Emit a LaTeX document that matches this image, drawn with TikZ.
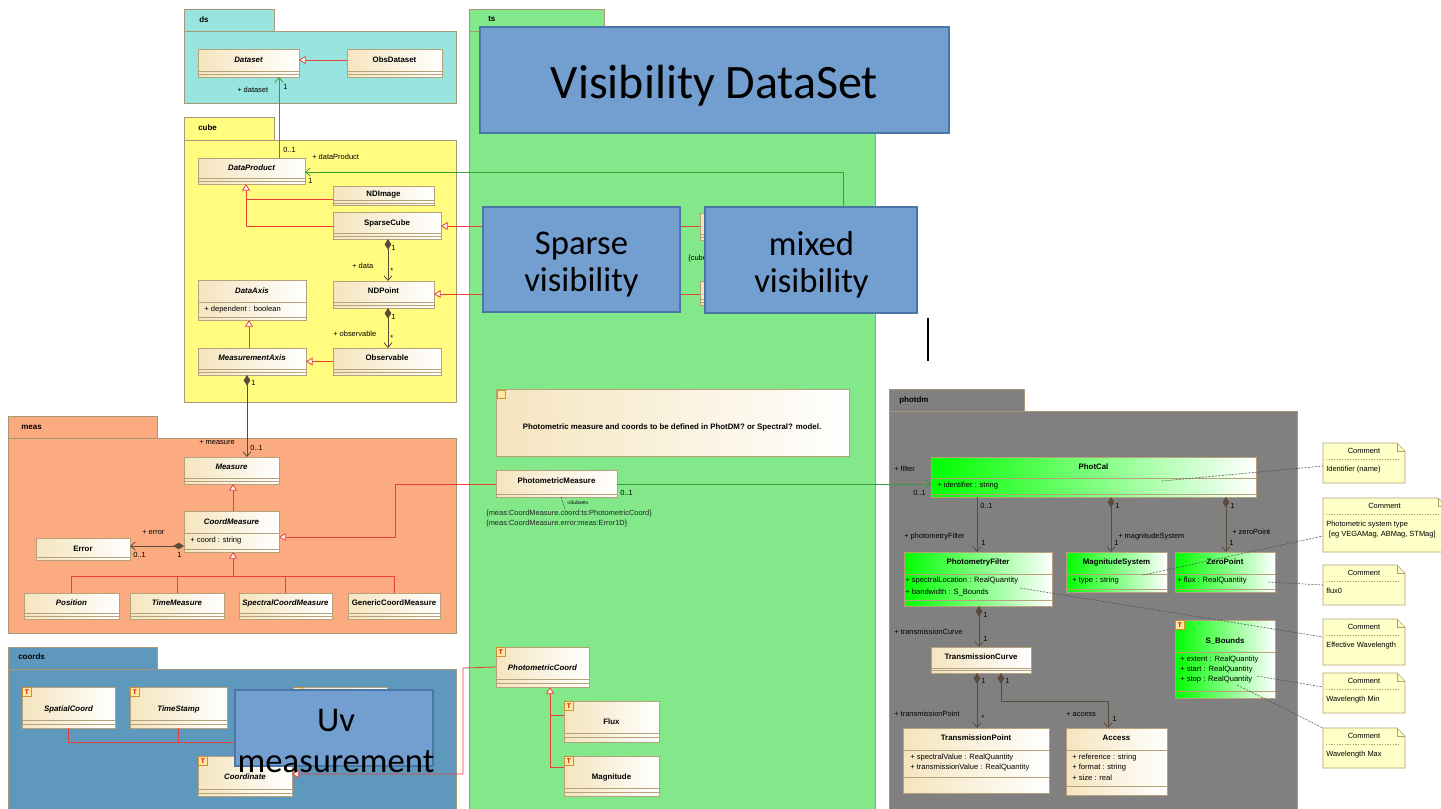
\documentclass[tikz,border=0pt]{standalone}
\usepackage{fontspec}
\setmainfont{Liberation Sans}
\newfontfamily\calib{Carlito}
\usetikzlibrary{arrows.meta,fit,calc}
\definecolor{dsC}{HTML}{98E4DE}
\definecolor{cubeC}{HTML}{FFFC80}
\definecolor{tsC}{HTML}{82E88A}
\definecolor{measC}{HTML}{FCAA80}
\definecolor{coordsC}{HTML}{5F98BD}
\definecolor{photC}{HTML}{808080}
\definecolor{pkgB}{HTML}{A89878}
\definecolor{clsB}{HTML}{B5A27A}
\definecolor{clsL}{HTML}{F5E5BE}
\definecolor{genR}{HTML}{E8413A}
\definecolor{assocG}{HTML}{3C9C3C}
\definecolor{compC}{HTML}{5C4A38}
\definecolor{blueF}{HTML}{729FCF}
\definecolor{blueB}{HTML}{4A76A8}
\definecolor{noteF}{HTML}{FFFFC8}
\definecolor{noteB}{HTML}{B0A070}
\definecolor{iconB}{HTML}{D09030}
\definecolor{iconF}{HTML}{FFE9A0}
\newcommand\umlcls[9][cls]{%
  \node[#1, fit={(#3,#4)(#5,#6)}] (#2) {};
  \foreach \dv in {#8} {\draw[cdiv] (#3,\dv) -- (#5,\dv);}
  \node[cname] (#2-n) at ({(#3+#5)/2},#7) {#9};
}
\newcommand\umlnote[6]{%
  \path[note] (#2,#3) -- ({#4-8},#3) -- (#4,{#3+8}) -- (#4,#5) -- (#2,#5) -- cycle;
  \draw[noteB, line width=0.5pt] ({#4-8},#3) -- ({#4-8},{#3+8}) -- (#4,{#3+8});
  \node[lbl] (#1-h) at ({(#2+#4)/2},{#3+8}) {Comment};
  \draw[noteB, dash pattern=on 1pt off 1pt, line width=0.4pt] ({#2+3},{#3+16}) -- ({#4-5},{#3+16});
  \node[lbl, anchor=north west, align=left] (#1-b) at ({#2+3},{#3+23}) {#6};
}
\begin{document}
\begin{tikzpicture}[x=0.75pt,y=-0.75pt,
  pkg/.style={draw=pkgB, line width=0.5pt},
  pkgname/.style={font=\fontsize{6}{7}\selectfont\bfseries, anchor=west, inner sep=0},
  cls/.style={draw=clsB, line width=0.6pt, left color=clsL, right color=white, inner sep=0pt, outer sep=0pt},
  gcls/.style={cls, left color=green, right color=white},
  cdiv/.style={draw=clsB, line width=0.5pt},
  cname/.style={font=\fontsize{5.9}{7}\selectfont\bfseries, inner sep=0},
  attr/.style={font=\fontsize{5.7}{7}\selectfont, inner sep=0, anchor=west},
  lbl/.style={font=\fontsize{5.6}{7.5}\selectfont, inner sep=0},
  gen/.style={draw=genR, line width=0.6pt},
  tri/.style={-{Triangle[length=5pt,width=6pt,fill=white]}},
  assoc/.style={line width=0.6pt, -{Straight Barb[length=3.5pt,width=6pt]}},
  comp/.style={draw=compC, line width=0.6pt, {Diamond[length=8pt,width=5pt]}-{Straight Barb[length=3.5pt,width=6pt]}},
  bluebox/.style={draw=blueB, fill=blueF, line width=0.8pt, inner sep=0pt},
  big/.style={font=\calib\fontsize{26}{27.75}\selectfont, align=center, inner sep=0},
  note/.style={draw=noteB, fill=noteF, line width=0.5pt},
  ndash/.style={draw=black!70, dash pattern=on 1.5pt off 1pt, line width=0.4pt},
  ticon/.style={draw=iconB, fill=iconF, text=red!80!black, font=\fontsize{5}{5}\selectfont\bfseries, inner sep=0, minimum size=6.5pt},
  nicon/.style={draw=iconB, fill=iconF, inner sep=0, minimum size=6pt}
]
\useasboundingbox (0,0) rectangle (1441,808);
\fill[white] (0,0) rectangle (1441,808);

% packages
\path[pkg, fill=dsC] (184,9) rectangle (274,31);
\path[pkg, fill=dsC] (184,31) rectangle (456,103);
\node[pkgname] (pk-ds) at (199,20) {ds};
\path[pkg, fill=cubeC] (184,117) rectangle (274,140);
\path[pkg, fill=cubeC] (184,140) rectangle (456,402);
\node[pkgname] (pk-cube) at (198,128) {cube};
\path[pkg, fill=measC] (8,416) rectangle (157,438);
\path[pkg, fill=measC] (8,438) rectangle (456,633);
\node[pkgname] (pk-meas) at (21,427) {meas};
\path[pkg, fill=coordsC] (8,647) rectangle (157,669);
\path[pkg, fill=coordsC] (8,669) rectangle (456,815);
\node[pkgname] (pk-coords) at (18,657) {coords};
\path[pkg, fill=tsC] (469,9) rectangle (604,31);
\path[pkg, fill=tsC] (469,31) rectangle (875,815);
\node[pkgname] (pk-ts) at (488,19) {ts};
\path[pkg, fill=photC] (889,389) rectangle (1024,411);
\path[pkg, fill=photC] (889,411) rectangle (1297,815);
\node[pkgname] (pk-phot) at (899,400) {photdm};

% classes: ds, cube
\umlcls{Dataset}{198}{49}{299}{77}{60}{71,74}{\itshape Dataset}
\umlcls{ObsDataset}{347}{49}{442}{77}{60}{71,74}{ObsDataset}
\umlcls{DataProduct}{198}{158}{305}{184}{168}{178,181}{\itshape DataProduct}
\umlcls{NDImage}{333}{186}{434}{205}{195}{200,203}{NDImage}
\umlcls{SparseCube}{333}{212}{441}{239}{223}{233,236}{SparseCube}
\umlcls{NDPoint}{333}{281}{434}{308}{291}{302,305}{NDPoint}
\umlcls{Observable}{333}{348}{441}{375}{358}{369,372}{Observable}
\umlcls{DataAxis}{198}{280}{306}{320}{291}{302,317}{\itshape DataAxis}
\umlcls{MeasurementAxis}{198}{348}{306}{375}{358}{369,372}{\itshape MeasurementAxis}
\node[attr] (a1) at (204,310) {+ dependent : boolean};

% meas
\umlcls{Measure}{184}{457}{279}{484}{467}{478,481}{\itshape Measure}
\umlcls{CoordMeasure}{184}{511}{279}{552}{522}{533,549}{\itshape CoordMeasure}
\umlcls{Error}{36}{538}{130}{560}{549}{557}{Error}
\umlcls{Position}{24}{593}{119}{619}{603}{613,616}{\itshape Position}
\umlcls{TimeMeasure}{130}{593}{224}{619}{603}{613,616}{\itshape TimeMeasure}
\umlcls{SpectralCoordMeasure}{239}{593}{332}{619}{603}{613,616}{\itshape SpectralCoordMeasure}
\umlcls{GenericCoordMeasure}{348}{593}{440}{619}{603}{613,616}{GenericCoordMeasure}
\node[attr] (a2) at (190,541) {+ coord : string};

% coords
\umlcls{SpatialCoord}{22}{687}{115}{728}{709}{720,724}{\itshape SpatialCoord}
\umlcls{TimeStamp}{130}{687}{227}{728}{709}{720,724}{\itshape TimeStamp}
\umlcls{HiddenCoord}{293}{687}{387}{728}{709}{720,724}{}
\umlcls{Coordinate}{198}{756}{292}{796}{777}{789,793}{\itshape Coordinate}
\node[ticon] (t1) at (27,692) {T};
\node[ticon] (t2) at (135,692) {T};
\node[ticon] (t3) at (298,692) {T};
\node[ticon] (t4) at (203,761) {T};

% ts
\node[cls, fit={(496,389)(849,456)}] (tsnote) {};
\node[nicon] (tsnote-i) at (501,394) {};
\node[cname] (tsnote-t) at (672,427) {Photometric measure and coords to be defined in PhotDM? or Spectral? model.};
\umlcls{PhotometricMeasure}{496}{470}{617}{497}{481}{494}{PhotometricMeasure}
\umlcls{PhotometricCoord}{496}{647}{589}{687}{668}{679,683}{\itshape PhotometricCoord}
\umlcls{Flux}{564}{701}{659}{742}{722}{733,737}{Flux}
\umlcls{Magnitude}{564}{756}{659}{796}{777}{788,792}{Magnitude}
\node[ticon] (t5) at (501,652) {T};
\node[ticon] (t6) at (569,706) {T};
\node[ticon] (t7) at (569,761) {T};
\umlcls{HiddenTsA}{700}{213}{800}{240}{226}{234,237}{}
\umlcls{HiddenTsB}{700}{281}{800}{305}{293}{299,302}{}
\node[lbl, anchor=west] (cubtxt) at (688,259) {\{cube};
\node[lbl] (subset) at (578,503) {\fontsize{3.8}{4}\selectfont <<Subset>>};
\node[lbl, anchor=north west, align=left, text=black!85] (cons) at (486,510) {\{meas:CoordMeasure.coord:ts:PhotometricCoord\}\\\{meas:CoordMeasure.error:meas:Error1D\}};

% photdm
\umlcls[gcls]{PhotCal}{931}{457}{1256}{497}{467}{478,494}{PhotCal}
\umlcls[gcls]{PhotometryFilter}{904}{552}{1052}{606}{562}{574,600}{PhotometryFilter}
\umlcls[gcls]{MagnitudeSystem}{1066}{552}{1167}{592}{562}{574,589}{MagnitudeSystem}
\umlcls[gcls]{ZeroPoint}{1175}{552}{1275}{592}{562}{574,589}{ZeroPoint}
\umlcls{TransmissionCurve}{931}{647}{1031}{673}{657}{668,670}{TransmissionCurve}
\umlcls{TransmissionPoint}{903}{728}{1049}{793}{738}{750,777}{TransmissionPoint}
\umlcls{Access}{1066}{728}{1167}{795}{738}{750,786}{Access}
\umlcls[gcls]{SBounds}{1175}{620}{1275}{698}{641}{652,691}{S\_Bounds}
\node[ticon] (t8) at (1180,625) {T};
\node[attr] (a3) at (937,486) {+ identifier : string};
\node[attr] (a4) at (905,581) {+ spectralLocation : RealQuantity};
\node[attr] (a5) at (905,592) {+ bandwidth : S\_Bounds};
\node[attr] (a6) at (1072,581) {+ type : string};
\node[attr] (a7) at (1177,581) {+ flux : RealQuantity};
\node[attr] (a8) at (1180,660) {+ extent : RealQuantity};
\node[attr] (a9) at (1180,670) {+ start : RealQuantity};
\node[attr] (a10) at (1180,680) {+ stop : RealQuantity};
\node[attr] (a11) at (910,758) {+ spectralValue : RealQuantity};
\node[attr] (a12) at (910,768) {+ transmissionValue : RealQuantity};
\node[attr] (a13) at (1072,758) {+ reference : string};
\node[attr] (a14) at (1072,768) {+ format : string};
\node[attr] (a15) at (1072,778) {+ size : real};

% connectors: ds / cube
\draw[gen, tri] (ObsDataset.west |- 0,60) -- (Dataset.east |- 0,60);
\draw[assoc, draw=assocG] (DataProduct.north -| 279,0) -- (Dataset.south -| 279,0);
\coordinate (mxsrc) at (843,207);
\draw[assoc, draw=assocG] (mxsrc) -- (843,172) -- (DataProduct.east |- 0,172);
\draw[gen] (NDImage.west |- 0,199) -- (246,199);
\draw[gen, tri] (SparseCube.west |- 0,226) -- (246,226) -- (DataProduct.south -| 246,0);
\draw[comp] (SparseCube.south -| 388,0) -- (NDPoint.north -| 388,0);
\draw[comp] (NDPoint.south -| 388,0) -- (Observable.north -| 388,0);
\draw[gen, tri] (Observable.west) -- (MeasurementAxis.east |- Observable.west);
\draw[gen, tri] (MeasurementAxis.north -| 249,0) -- (DataAxis.south -| 249,0);
\draw[comp] (MeasurementAxis.south -| 247,0) -- (Measure.north -| 247,0);
\draw[gen, tri] (HiddenTsA.west |- 0,226) -- (SparseCube.east |- 0,226);
\draw[gen, tri] (HiddenTsB.west |- 0,294) -- (NDPoint.east |- 0,294);

% meas
\draw[gen, tri] (CoordMeasure.north -| 233,0) -- (Measure.south -| 233,0);
\coordinate (cmj) at (233,576);
\draw[gen] (Position.north) -- (Position.north |- cmj) -- (GenericCoordMeasure.north |- cmj) -- (GenericCoordMeasure.north);
\draw[gen] (TimeMeasure.north) -- (TimeMeasure.north |- cmj);
\draw[gen] (SpectralCoordMeasure.north) -- (SpectralCoordMeasure.north |- cmj);
\draw[gen, tri] (cmj) -- (CoordMeasure.south -| cmj);
\draw[comp] (CoordMeasure.west |- 0,546) -- (Error.east |- 0,546);
\draw[gen, tri] (PhotometricMeasure.west |- 0,484) -- (395,484) -- (395,537) -- (CoordMeasure.east |- 0,537);
\draw[assoc, draw=assocG] (PhotometricMeasure.east |- 0,484) -- (PhotCal.west |- 0,484);
\coordinate (subend) at (566,513);
\draw[ndash] (PhotometricMeasure.south -| 561,0) -- (subend);

% ts coords
\draw[gen] (Flux.west |- 0,715) -- (550,715);
\draw[gen, tri] (Magnitude.west |- 0,767) -- (550,767) -- (PhotometricCoord.south -| 550,0);
\draw[gen, tri] (PhotometricCoord.west) -- (463,668) -- (463,774) -- (Coordinate.east |- 0,774);
\coordinate (coj) at (245,742);
\draw[gen] (SpatialCoord.south) -- (SpatialCoord.south |- coj) -- (HiddenCoord.south |- coj) -- (HiddenCoord.south);
\draw[gen] (TimeStamp.south) -- (TimeStamp.south |- coj);
\draw[gen, tri] (coj) -- (Coordinate.north -| coj);

% photdm
\draw[assoc, draw=compC] (PhotCal.south -| 977,0) -- (PhotometryFilter.north -| 977,0);
\draw[comp] (PhotCal.south -| 1111,0) -- (MagnitudeSystem.north -| 1111,0);
\draw[comp] (PhotCal.south -| 1226,0) -- (ZeroPoint.north -| 1226,0);
\draw[comp] (PhotometryFilter.south -| 979,0) -- (TransmissionCurve.north -| 979,0);
\draw[comp] (TransmissionCurve.south -| 977,0) -- (TransmissionPoint.north -| 977,0);
\draw[comp] (TransmissionCurve.south -| 1001,0) -- (1001,701) -- (1108,701) -- (Access.north -| 1108,0);

% labels
\node[lbl, anchor=west] (l1) at (237,90) {+ dataset};
\node[lbl, anchor=west] (l2) at (283,87) {1};
\node[lbl, anchor=west] (l3) at (283,150) {0..1};
\node[lbl, anchor=west] (l4) at (312,157) {+ dataProduct};
\node[lbl, anchor=west] (l5) at (308,181) {1};
\node[lbl, anchor=west] (l6) at (391,248) {1};
\node[lbl, anchor=west] (l7) at (390,271) {*};
\node[lbl, anchor=west] (l8) at (352,266) {+ data};
\node[lbl, anchor=west] (l9) at (391,317) {1};
\node[lbl, anchor=west] (l10) at (390,338) {*};
\node[lbl, anchor=west] (l11) at (333,334) {+ observable};
\node[lbl, anchor=west] (l12) at (251,383) {1};
\node[lbl, anchor=west] (l13) at (199,442) {+ measure};
\node[lbl, anchor=west] (l14) at (250,448) {0..1};
\node[lbl, anchor=west] (l15) at (142,532) {+ error};
\node[lbl, anchor=west] (l16) at (133,555) {0..1};
\node[lbl, anchor=west] (l17) at (177,555) {1};
\node[lbl, anchor=west] (l18) at (620,493) {0..1};
\node[lbl, anchor=west] (l19) at (894,469) {+ filter};
\node[lbl, anchor=west] (l20) at (913,493) {0..1};
\node[lbl, anchor=west] (l21) at (980,506) {0..1};
\node[lbl, anchor=west] (l22) at (904,537) {+ photometryFilter};
\node[lbl, anchor=west] (l23) at (981,543) {1};
\node[lbl, anchor=west] (l24) at (1115,506) {1};
\node[lbl, anchor=west] (l25) at (1114,543) {1};
\node[lbl, anchor=west] (l26) at (1118,537) {+ magnitudeSystem};
\node[lbl, anchor=west] (l27) at (1230,506) {1};
\node[lbl, anchor=west] (l28) at (1229,543) {1};
\node[lbl, anchor=west] (l29) at (1232,532) {+ zeroPoint};
\node[lbl, anchor=west] (l30) at (983,615) {1};
\node[lbl, anchor=west] (l31) at (983,639) {1};
\node[lbl, anchor=west] (l32) at (894,632) {+ transmissionCurve};
\node[lbl, anchor=west] (l33) at (981,681) {1};
\node[lbl, anchor=west] (l34) at (981,718) {*};
\node[lbl, anchor=west] (l35) at (894,714) {+ transmissionPoint};
\node[lbl, anchor=west] (l36) at (1005,681) {1};
\node[lbl, anchor=west] (l37) at (1112,719) {1};
\node[lbl, anchor=west] (l38) at (1066,714) {+ access};

% overlay boxes
\node[bluebox, fit={(480,27)(949,133)}] (vds) {};
\node[big, font=\calib\fontsize{36}{40}\selectfont] (vds-t) at (714.5,86) {Visibility DataSet};
\node[bluebox, fit={(483,207)(680,312)}] (spv) {};
\node[big] (spv-t) at (581.5,265) {Sparse\\visibility};
\node[bluebox, fit={(705,207)(917,313)}] (mxv) {};
\node[big] (mxv-t) at (811.5,265) {mixed\\visibility};
\node[bluebox, fit={(235,690)(433,766)}] (uvm) {};
\node[big, font=\calib\fontsize{26}{30.75}\selectfont] (uvm-t) at (336,741) {Uv\\measurement};
\coordinate (bl1) at (928,318);
\coordinate (bl2) at (928,361);
\draw[black, line width=0.8pt] (bl1) -- (bl2);

% comments
\umlnote{cm1}{1323}{443}{1405}{483}{Identifier (name)}
\umlnote{cm2}{1323}{498}{1446}{552}{Photometric system type\\\hspace*{2pt}[eg VEGAMag, ABMag, STMag]}
\umlnote{cm3}{1323}{565}{1405}{605}{flux0}
\umlnote{cm4}{1323}{619}{1405}{665}{Effective Wavelength}
\umlnote{cm5}{1323}{673}{1405}{713}{Wavelength Min}
\umlnote{cm6}{1323}{728}{1405}{768}{Wavelength Max}
\coordinate (d1a) at (1162,481); \coordinate (d1b) at (1323,466);
\coordinate (d2a) at (1143,575); \coordinate (d2b) at (1323,536);
\coordinate (d3a) at (1268,582); \coordinate (d3b) at (1323,585);
\coordinate (d4a) at (1020,588); \coordinate (d4b) at (1323,637);
\coordinate (d5a) at (1257,676); \coordinate (d5b) at (1323,687);
\coordinate (d6a) at (1237,685); \coordinate (d6b) at (1323,728);
\draw[ndash] (d1a) -- (d1b);
\draw[ndash] (d2a) -- (d2b);
\draw[ndash] (d3a) -- (d3b);
\draw[ndash] (d4a) -- (d4b);
\draw[ndash] (d5a) -- (d5b);
\draw[ndash] (d6a) -- (d6b);
\end{tikzpicture}
\end{document}
